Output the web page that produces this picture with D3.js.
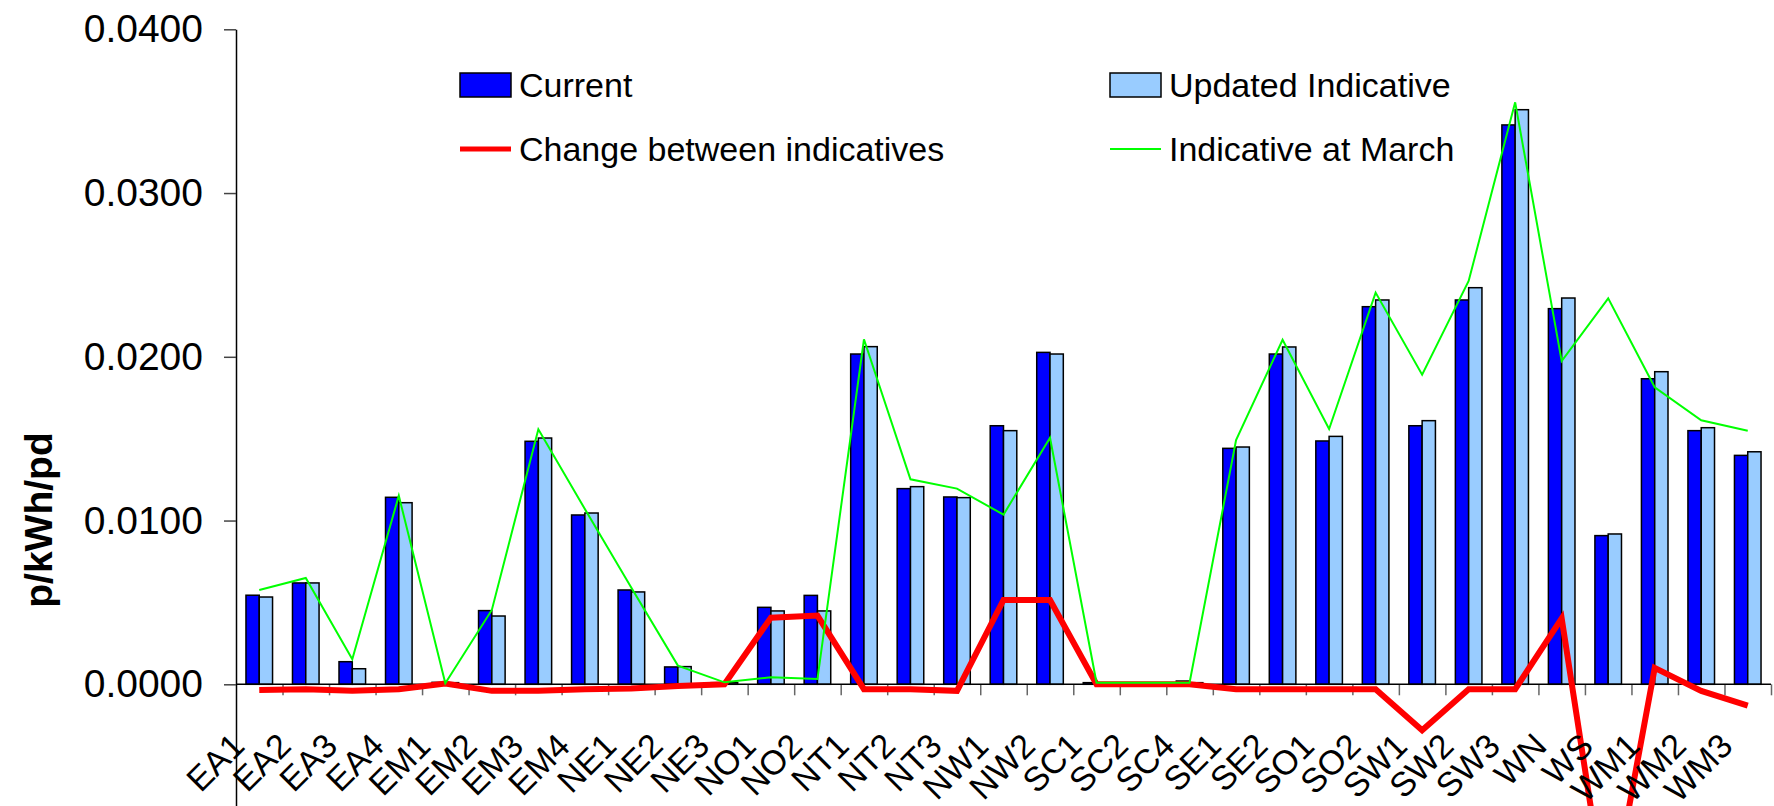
<!DOCTYPE html>
<html>
<head>
  <meta charset="UTF-8">
  <script src="https://cdn.jsdelivr.net/npm/d3@7/dist/d3.min.js"></script>
  <title>Current vs updated indicative</title>
  <style>
    body { margin: 0; background: #fff; }
    svg { display: block; font-family: "Liberation Sans", Arial, sans-serif; }
  </style>
</head>
<body>

<svg width="1774" height="806"></svg>

<script>

  var categories = [ "EA1", "EA2", "EA3", "EA4", "EM1", "EM2", "EM3", "EM4", "NE1", "NE2", "NE3",
    "NO1", "NO2", "NT1", "NT2", "NT3", "NW1", "NW2", "SC1", "SC2", "SC4", "SE1", "SE2",
    "SO1", "SO2", "SW1", "SW2", "SW3", "WN", "WS", "WM1", "WM2", "WM3" ];

  var current = [ 0.00544, 0.00619, 0.00138, 0.01142, 0.00012, 0.00450, 0.01484, 0.01034, 0.00576, 0.00106, 0.00010,
    0.00470, 0.00543, 0.02017, 0.01195, 0.01144, 0.01579, 0.02027, 0.00010, 0.00000, 0.00020, 0.01441, 0.02017,
    0.01486, 0.02306, 0.01579, 0.02347, 0.03416, 0.02294, 0.00908, 0.01866, 0.01549, 0.01398 ];

  var updated = [ 0.00533, 0.00619, 0.00095, 0.01109, 0.00010, 0.00417, 0.01504, 0.01046, 0.00564, 0.00108, 0.00010,
    0.00448, 0.00448, 0.02062, 0.01207, 0.01140, 0.01549, 0.02017, 0.00000, 0.00000, 0.00010, 0.01449, 0.02060,
    0.01514, 0.02347, 0.01610, 0.02422, 0.03509, 0.02359, 0.00918, 0.01909, 0.01567, 0.01420 ];

  var change = [ -0.00035, -0.00030, -0.00040, -0.00030, 0.00005, -0.00040, -0.00040, -0.00030, -0.00025, -0.00010, 0.00000,
    0.00407, 0.00420, -0.00030, -0.00030, -0.00040, 0.00515, 0.00515, 0.00000, 0.00000, 0.00000, -0.00030, -0.00030,
    -0.00030, -0.00030, -0.00280, -0.00030, -0.00030, 0.00403, -0.01440, 0.00100, -0.00040, -0.00130 ];

  var march = [ 0.00576, 0.00649, 0.00153, 0.01152, 0.00006, 0.00454, 0.01557, 0.01070, 0.00590, 0.00114, 0.00012,
    0.00043, 0.00032, 0.02107, 0.01252, 0.01195, 0.01036, 0.01506, 0.00010, 0.00010, 0.00010, 0.01492, 0.02104,
    0.01559, 0.02392, 0.01891, 0.02463, 0.03554, 0.01974, 0.02357, 0.01814, 0.01612, 0.01549 ];

  var yTicks = [ 0, 0.01, 0.02, 0.03, 0.04 ];

  var seriesNames = [ "Current", "Updated Indicative", "Change between indicatives", "Indicative at March" ];

  var font = "\"Liberation Sans\", Arial, sans-serif";
  var plot = { left: 236, right: 1771, top: 29.3, zero: 684.3 };

  var svg = d3.select( "svg" );

  // scale picked so 0..0.04 hits the reference pixels; -0.02 runs off the bottom like the cropped original
  var y = d3.scaleLinear()
      .domain( [ -0.02, 0.04 ] )
      .range( [ plot.zero + 2 * (plot.zero - plot.top) / 4, plot.top ] );

  var x = d3.scaleBand()
      .domain( categories )
      .range( [ plot.left, plot.right ] );

  var xEdge = d3.scaleLinear()
      .domain( [ 0, categories.length ] )
      .range( [ plot.left, plot.right ] );

  // excel gap width 150%: two bars share 2 / 3.5 of the band
  var barWidth = x.bandwidth() / 3.5;

  function cx( d, i )
  {
    return x( categories[i] ) + x.bandwidth() / 2;
  }

  // category tick marks between the groups
  svg.append( "g" )
      .attr( "transform", "translate(0," + plot.zero + ")" )
      .call( d3.axisBottom( xEdge ).tickValues( d3.range( 1, categories.length + 1 ) ).tickSize( 11 ).tickFormat( "" ) )
      .call( function ( g )
      {
        g.select( ".domain" ).remove();
        g.selectAll( ".tick line" ).attr( "stroke", "#666" ).attr( "stroke-width", 1.5 );
      } );

  // bars
  svg.selectAll( "rect.current" ).data( current ).enter()
      .append( "rect" )
      .attr( "class", "current" )
      .attr( "x", function ( d, i ) { return cx( d, i ) - barWidth; } )
      .attr( "y", function ( d ) { return y( d ); } )
      .attr( "width", barWidth )
      .attr( "height", function ( d ) { return y( 0 ) - y( d ); } )
      .attr( "fill", "#0000ff" )
      .attr( "stroke", "#000" )
      .attr( "stroke-width", 1.5 );

  svg.selectAll( "rect.updated" ).data( updated ).enter()
      .append( "rect" )
      .attr( "class", "updated" )
      .attr( "x", function ( d, i ) { return cx( d, i ); } )
      .attr( "y", function ( d ) { return y( d ); } )
      .attr( "width", barWidth )
      .attr( "height", function ( d ) { return y( 0 ) - y( d ); } )
      .attr( "fill", "#99ccff" )
      .attr( "stroke", "#000" )
      .attr( "stroke-width", 1.5 );

  // x axis line over the bar bottoms
  svg.append( "line" )
      .attr( "x1", plot.left ).attr( "x2", plot.right )
      .attr( "y1", y( 0 ) ).attr( "y2", y( 0 ) )
      .attr( "stroke", "#000" )
      .attr( "stroke-width", 1.5 );

  var line = d3.line()
      .x( cx )
      .y( function ( d ) { return y( d ); } );

  svg.append( "path" )
      .datum( change )
      .attr( "fill", "none" )
      .attr( "stroke", "#ff0000" )
      .attr( "stroke-width", 6 )
      .attr( "d", line );

  svg.append( "path" )
      .datum( march )
      .attr( "fill", "none" )
      .attr( "stroke", "#00ff00" )
      .attr( "stroke-width", 2 )
      .attr( "d", line );

  // y axis
  svg.append( "g" )
      .attr( "transform", "translate(" + plot.left + ",0)" )
      .call( d3.axisLeft( y ).tickValues( yTicks ).tickFormat( d3.format( ".4f" ) ).tickSize( 12 ).tickSizeOuter( 0 ).tickPadding( 21 ) )
      .call( function ( g )
      {
        g.select( ".domain" ).attr( "stroke", "#000" ).attr( "stroke-width", 1.5 );
        g.selectAll( ".tick line" ).attr( "stroke", "#444" ).attr( "stroke-width", 1.5 );
        g.selectAll( ".tick text" )
            .attr( "fill", "#000" )
            .style( "font-family", font )
            .style( "font-size", "39px" );
      } );

  svg.append( "text" )
      .attr( "transform", "translate(52,520) rotate(-90)" )
      .attr( "text-anchor", "middle" )
      .style( "font-size", "39px" )
      .style( "font-weight", "bold" )
      .text( "p/kWh/pd" );

  // rotated category labels
  svg.selectAll( "text.cat" ).data( categories ).enter()
      .append( "text" )
      .attr( "class", "cat" )
      .attr( "text-anchor", "end" )
      .attr( "transform", function ( d, i )
      {
        return "translate(" + (cx( d, i ) - 13) + ",748) rotate(-45)";
      } )
      .style( "font-size", "34px" )
      .text( function ( d ) { return d; } );

  // legend, two rows of two
  var legendX = [ 460, 1110 ];
  var legendRowY = [ 85, 149 ];

  var legend = svg.selectAll( "g.legend" ).data( seriesNames ).enter()
      .append( "g" )
      .attr( "class", "legend" )
      .attr( "transform", function ( d, i )
      {
        return "translate(" + legendX[i % 2] + "," + legendRowY[Math.floor( i / 2 )] + ")";
      } );

  legend.filter( function ( d, i ) { return i < 2; } )
      .append( "rect" )
      .attr( "x", 0 ).attr( "y", -12 )
      .attr( "width", 51 ).attr( "height", 24 )
      .attr( "fill", function ( d, i ) { return i === 0 ? "#0000ff" : "#99ccff"; } )
      .attr( "stroke", "#000" )
      .attr( "stroke-width", 1.5 );

  legend.filter( function ( d, i ) { return i >= 2; } )
      .append( "line" )
      .attr( "x1", 0 ).attr( "x2", 51 )
      .attr( "stroke", function ( d, i ) { return i === 0 ? "#ff0000" : "#00ff00"; } )
      .attr( "stroke-width", function ( d, i ) { return i === 0 ? 5 : 2; } );

  legend.append( "text" )
      .attr( "x", 59 )
      .attr( "y", 12 )
      .style( "font-size", "34px" )
      .text( function ( d ) { return d; } );

</script>

</body>
</html>
